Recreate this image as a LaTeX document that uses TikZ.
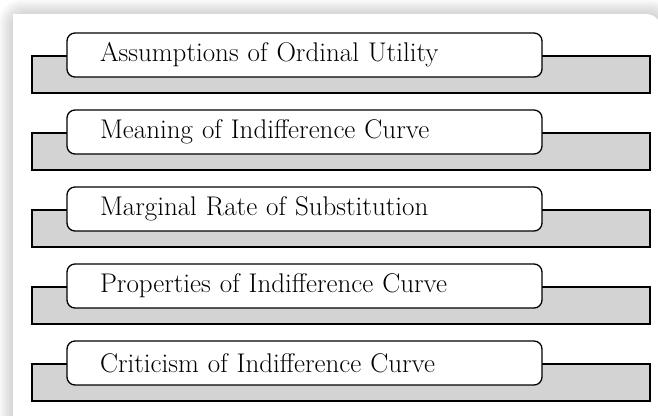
\documentclass[tikz,border=0pt]{standalone}
\definecolor{barfill}{HTML}{D3D3D3}
\tikzset{
  panel/.style={fill=white},                                         % outer sheet
  bar/.style={draw=black, line width=1.8pt, fill=barfill},           % grey strip
  topic/.style={draw=black, line width=1.3pt, fill=white, rounded corners=8pt,
                minimum height=44pt, text width=409pt, inner xsep=33pt,
                align=left, font=\fontsize{27}{30}\selectfont},
}

\begin{document}
\begin{tikzpicture}[x=1pt,y=-1pt]
  \useasboundingbox (0,0) rectangle (658,415);
  % soft shadow round the sheet
  \foreach \k in {1,...,7}
    \fill[black, opacity=0.025, rounded corners=15pt+\k pt]
      (13-2*\k,440) -- (13-2*\k,14-2*\k) -- (661+2*\k,14-2*\k) -- (661+2*\k,440) -- cycle;
  \fill[panel] (13,440) -- (13,14) [rounded corners=15pt] -- (661,14) -- (661,440) [sharp corners] -- cycle;
  \foreach \i/\txt in {0/Assumptions of Ordinal Utility,
                       1/Meaning of Indifference Curve,
                       2/Marginal Rate of Substitution,
                       3/Properties of Indifference Curve,
                       4/Criticism of Indifference Curve}
  {
    \pgfmathsetmacro\dy{77*\i}
    \draw[bar] (32,56+\dy) rectangle (650,93+\dy);
    \node[topic] (t\i) at (304.5,55+\dy) {\txt};
  }
\end{tikzpicture}
\end{document}
